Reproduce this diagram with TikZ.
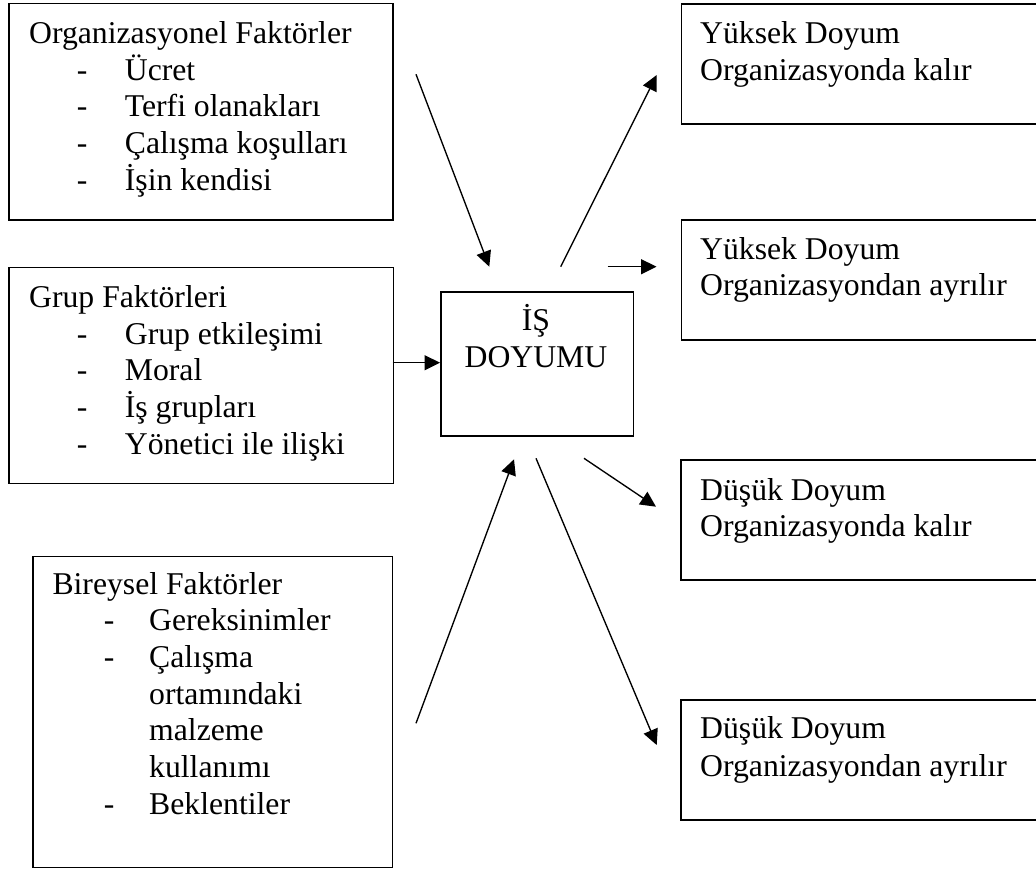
\documentclass[tikz,border=0pt]{standalone}
\usepackage{fontspec}
\setmainfont{Liberation Serif}
\usetikzlibrary{arrows.meta}
\begin{document}
\begin{tikzpicture}[x=1pt,y=-1pt,
  box/.style={draw, line width=1.7pt, rectangle, inner sep=0pt, anchor=north west},
  txt/.style={anchor=base west, inner sep=0pt, font=\fontsize{31.7}{36.7}\selectfont},
  ctxt/.style={anchor=base, inner sep=0pt, font=\fontsize{31.7}{36.7}\selectfont},
  conn/.style={line width=1.35pt, -{Triangle[length=15.5pt,width=15pt]}}]
\useasboundingbox (0,0) rectangle (1036,868);
\clip (0,0) rectangle (1036,868);
\fill[white] (0,0) rectangle (1036,868);

% boxes
\node[box, minimum width=384pt, minimum height=216.3pt] (org) at (8.3,2.7) {};
\node[box, minimum width=384.4pt, minimum height=216pt] (grp) at (8.3,266.7) {};
\node[box, minimum width=359.4pt, minimum height=311pt] (bir) at (32.3,555.7) {};
\node[box, minimum width=192.5pt, minimum height=144pt] (is) at (440,291) {};
\node[box, minimum width=370pt, minimum height=120pt] (y1) at (680.5,3) {};
\node[box, minimum width=370pt, minimum height=120pt] (y2) at (680.5,219) {};
\node[box, minimum width=370pt, minimum height=120pt] (d1) at (680,459) {};
\node[box, minimum width=370pt, minimum height=120pt] (d2) at (680,699) {};

% texts
\node[txt] (orgt) at (29,43.3) {\fontsize{31.7}{36.7}\selectfont\begin{tabular}[t]{@{}l@{}}
Organizasyonel Faktörler\\
\hspace*{47.7pt}\makebox[48pt][l]{-}Ücret\\
\hspace*{47.7pt}\makebox[48pt][l]{-}Terfi olanakları\\
\hspace*{47.7pt}\makebox[48pt][l]{-}Çalışma koşulları\\
\hspace*{47.7pt}\makebox[48pt][l]{-}İşin kendisi
\end{tabular}};
\node[txt] (grpt) at (29,307.3) {\fontsize{31.7}{36.7}\selectfont\begin{tabular}[t]{@{}l@{}}
Grup Faktörleri\\
\hspace*{47.7pt}\makebox[48pt][l]{-}Grup etkileşimi\\
\hspace*{47.7pt}\makebox[48pt][l]{-}Moral\\
\hspace*{47.7pt}\makebox[48pt][l]{-}İş grupları\\
\hspace*{47.7pt}\makebox[48pt][l]{-}Yönetici ile ilişki
\end{tabular}};
\node[txt] (birt) at (52.3,594) {\fontsize{31.7}{36.7}\selectfont\begin{tabular}[t]{@{}l@{}}
Bireysel Faktörler\\
\hspace*{51.4pt}\makebox[45.3pt][l]{-}Gereksinimler\\
\hspace*{51.4pt}\makebox[45.3pt][l]{-}Çalışma\\
\hspace*{96.7pt}ortamındaki\\
\hspace*{96.7pt}malzeme\\
\hspace*{96.7pt}kullanımı\\
\hspace*{51.4pt}\makebox[45.3pt][l]{-}Beklentiler
\end{tabular}};
\node[ctxt] (ist1) at (536,330) {İŞ};
\node[ctxt] (ist2) at (536,367.7) {DOYUMU};
\node[txt] (y1a) at (700,43.3) {Yüksek Doyum};
\node[txt] (y1b) at (700,80) {Organizasyonda kalır};
\node[txt] (y2a) at (700,259) {Yüksek Doyum};
\node[txt] (y2b) at (700,295.7) {Organizasyondan ayrılır};
\node[txt] (d1a) at (700,500) {Düşük Doyum};
\node[txt] (d1b) at (700,536.7) {Organizasyonda kalır};
\node[txt] (d2a) at (700,738.3) {Düşük Doyum};
\node[txt] (d2b) at (700,776.7) {Organizasyondan ayrılır};

% connector end points
\coordinate (a1s) at (416,74.3);   \coordinate (a1e) at (489.3,266.7);
\coordinate (a2s) at (392.7,362.7); \coordinate (a2e) at (440,362.7);
\coordinate (a3s) at (416,723.3);  \coordinate (a3e) at (514,459.3);
\coordinate (a4s) at (560.7,266.7); \coordinate (a4e) at (656.7,75);
\coordinate (a5s) at (607.7,266.7); \coordinate (a5e) at (656.5,266.7);
\coordinate (a6s) at (584,458.3);  \coordinate (a6e) at (656,506.7);
\coordinate (a7s) at (536,458.3);  \coordinate (a7e) at (656.7,745);

\draw[conn] (a1s) -- (a1e);
\draw[conn] (a2s) -- (a2e);
\draw[conn] (a3s) -- (a3e);
\draw[conn] (a4s) -- (a4e);
\draw[conn] (a5s) -- (a5e);
\draw[conn] (a6s) -- (a6e);
\draw[conn] (a7s) -- (a7e);
\end{tikzpicture}
\end{document}
